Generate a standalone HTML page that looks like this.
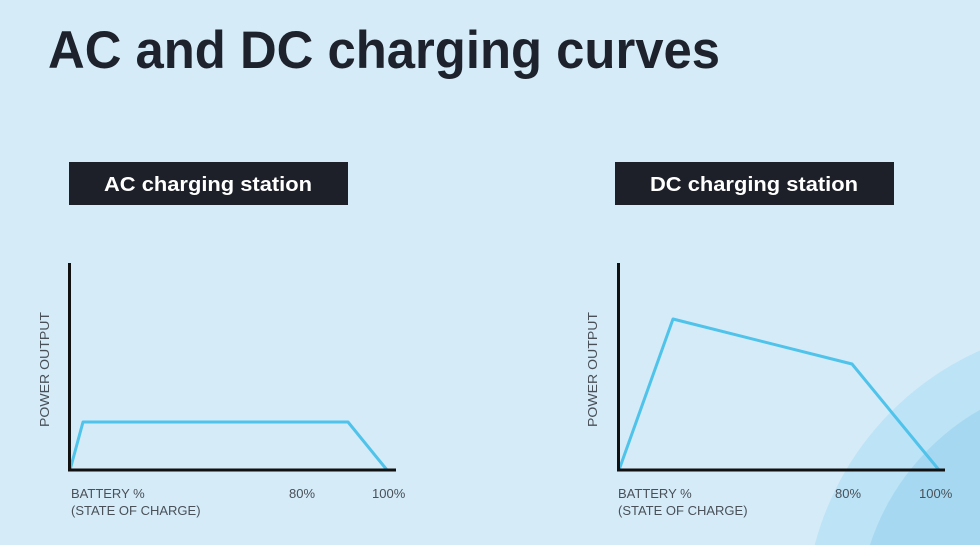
<!DOCTYPE html>
<html><head><meta charset="utf-8"><style>
html,body{margin:0;padding:0;background:#d5ebf8;width:980px;height:545px;overflow:hidden;}
svg{display:block}
</style></head><body>
<svg width="980" height="545" viewBox="0 0 980 545" xmlns="http://www.w3.org/2000/svg">
<rect width="980" height="545" fill="#d5ebf8"/>
<path d="M814.7,545 A295,295 0 0 1 980,350.5 L980,545 Z" fill="#bde3f6"/>
<path d="M869.9,545 A242,242 0 0 1 980,409.8 L980,545 Z" fill="#a6d9f1"/>
<text x="48" y="68" font-family="Liberation Sans, sans-serif" font-weight="bold" font-size="53" fill="#1d222c" textLength="672" lengthAdjust="spacingAndGlyphs">AC and DC charging curves</text>
<rect x="69" y="162" width="279" height="43" fill="#1d2029"/>
<text x="104" y="191" font-family="Liberation Sans, sans-serif" font-weight="bold" font-size="20" fill="#fff" textLength="208" lengthAdjust="spacingAndGlyphs">AC charging station</text>
<rect x="615" y="162" width="279" height="43" fill="#1d2029"/>
<text x="650" y="191" font-family="Liberation Sans, sans-serif" font-weight="bold" font-size="20" fill="#fff" textLength="208" lengthAdjust="spacingAndGlyphs">DC charging station</text>
<g font-family="Liberation Sans, sans-serif" font-size="13" fill="#4a5058">
<text transform="translate(49,427) rotate(-90)" textLength="115" lengthAdjust="spacingAndGlyphs">POWER OUTPUT</text>
<text x="71" y="498">BATTERY %</text>
<text x="71" y="515">(STATE OF CHARGE)</text>
<text x="289" y="498">80%</text>
<text x="372" y="498">100%</text>
<text transform="translate(597,427) rotate(-90)" textLength="115" lengthAdjust="spacingAndGlyphs">POWER OUTPUT</text>
<text x="618" y="498">BATTERY %</text>
<text x="618" y="515">(STATE OF CHARGE)</text>
<text x="835" y="498">80%</text>
<text x="919" y="498">100%</text>
</g>
<polyline points="70,470 83,422 348,422 387,470" fill="none" stroke="#4fc3ea" stroke-width="3" stroke-linejoin="round"/>
<polyline points="619,470 673,319 852,364 939,470" fill="none" stroke="#4fc3ea" stroke-width="3" stroke-linejoin="round"/>
<path d="M69.5,263 V470 H396" fill="none" stroke="#111" stroke-width="3"/>
<path d="M618.5,263 V470 H945" fill="none" stroke="#111" stroke-width="3"/>
</svg>
</body></html>
